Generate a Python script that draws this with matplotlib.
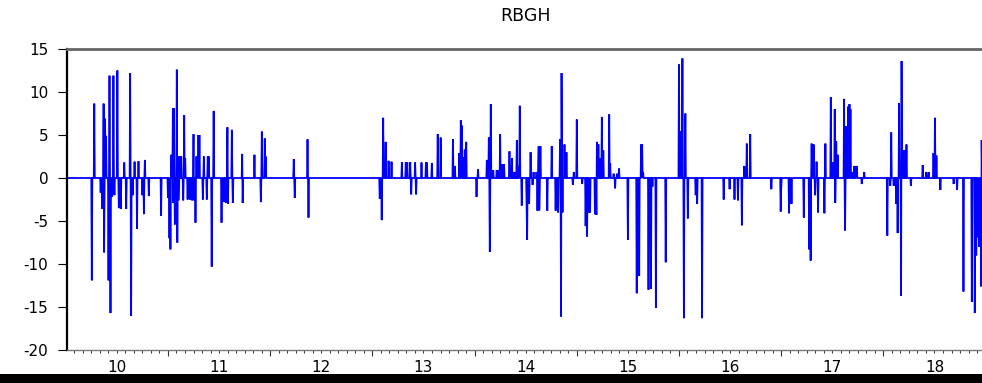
import numpy as np
import matplotlib
matplotlib.use("Agg")
import matplotlib.pyplot as plt
from matplotlib.ticker import MultipleLocator, FixedLocator, NullFormatter
from matplotlib.patches import Rectangle
import matplotlib.transforms as mtransforms

title = "RBGH"
year_labels = ["10", "11", "12", "13", "14", "15", "16", "17", "18"]
year_starts = [2010, 2011, 2012, 2013, 2014, 2015, 2016, 2017, 2018]
y_ticks = [15, 10, 5, 0, -5, -10, -15, -20]

spike_year = [
    2010.256, 2010.279, 2010.341, 2010.358, 2010.371, 2010.377, 2010.384, 2010.393,
    2010.419, 2010.429, 2010.439, 2010.452, 2010.468, 2010.478, 2010.504, 2010.517,
    2010.537, 2010.570, 2010.592, 2010.631, 2010.638, 2010.654, 2010.674, 2010.697,
    2010.710, 2010.752, 2010.765, 2010.775, 2010.814, 2010.932,
    2011.000, 2011.013, 2011.026, 2011.033, 2011.046, 2011.052, 2011.059, 2011.065,
    2011.085, 2011.091, 2011.098, 2011.104, 2011.117, 2011.130, 2011.147, 2011.157,
    2011.170, 2011.192, 2011.215, 2011.235, 2011.248, 2011.254, 2011.267, 2011.281,
    2011.297, 2011.307, 2011.339, 2011.349, 2011.378, 2011.388, 2011.398, 2011.427,
    2011.447, 2011.522, 2011.535, 2011.555, 2011.568, 2011.581, 2011.587, 2011.626,
    2011.633, 2011.724, 2011.731, 2011.845, 2011.907, 2011.917, 2011.946, 2011.956,
    2012.233, 2012.239, 2012.367, 2012.373,
    2013.074, 2013.091, 2013.104, 2013.130, 2013.159, 2013.189, 2013.290, 2013.329,
    2013.342, 2013.368, 2013.381, 2013.417, 2013.427, 2013.479, 2013.525, 2013.534,
    2013.583, 2013.639, 2013.668, 2013.789, 2013.808, 2013.851, 2013.864, 2013.877,
    2013.890, 2013.903, 2013.919,
    2014.020, 2014.033, 2014.118, 2014.138, 2014.151, 2014.160, 2014.183, 2014.216,
    2014.235, 2014.248, 2014.275, 2014.288, 2014.340, 2014.363, 2014.379, 2014.395,
    2014.415, 2014.431, 2014.444, 2014.460, 2014.509, 2014.516, 2014.535, 2014.548,
    2014.565, 2014.575, 2014.607, 2014.617, 2014.627, 2014.637, 2014.646, 2014.712,
    2014.754, 2014.793, 2014.819, 2014.836, 2014.845, 2014.852, 2014.862, 2014.881,
    2014.901, 2014.963, 2014.973,
    2015.002, 2015.054, 2015.087, 2015.103, 2015.119, 2015.129, 2015.178, 2015.191,
    2015.198, 2015.211, 2015.227, 2015.243, 2015.260, 2015.315, 2015.328, 2015.361,
    2015.377, 2015.393, 2015.413, 2015.498, 2015.586, 2015.609, 2015.628, 2015.638,
    2015.651, 2015.703, 2015.726, 2015.742, 2015.772, 2015.870,
    2016.000, 2016.020, 2016.033, 2016.049, 2016.062, 2016.088, 2016.163, 2016.179,
    2016.228, 2016.437, 2016.496, 2016.545, 2016.577, 2016.616, 2016.639, 2016.665,
    2016.695, 2016.903, 2016.995,
    2017.001, 2017.076, 2017.093, 2017.102, 2017.223, 2017.272, 2017.288, 2017.298,
    2017.318, 2017.331, 2017.344, 2017.360, 2017.422, 2017.432, 2017.484, 2017.504,
    2017.523, 2017.530, 2017.539, 2017.553, 2017.614, 2017.624, 2017.634, 2017.654,
    2017.667, 2017.680, 2017.696, 2017.716, 2017.729, 2017.742, 2017.787, 2017.813,
    2018.038, 2018.068, 2018.078, 2018.100, 2018.123, 2018.140, 2018.156, 2018.166,
    2018.172, 2018.179, 2018.198, 2018.211, 2018.228, 2018.270, 2018.384, 2018.420,
    2018.440, 2018.492, 2018.505, 2018.521, 2018.557, 2018.687, 2018.723, 2018.782,
    2018.864, 2018.896, 2018.909, 2018.926, 2018.939, 2018.955, 2018.961,
]
spike_value = [
    -11.9, 8.65, -1.7, -3.6, 8.65, -8.65, 6.9, 4.9,
    -11.9, 11.9, -15.7, -2.2, 11.9, -2.0, 12.5, -3.5,
    -3.6, 1.8, -3.6, 12.2, -16.0, -2.0, 1.9, -5.9,
    1.95, -2.0, -4.2, 2.1, -2.1, -4.4,
    -2.3, -7.0, -8.3, 2.7, 8.1, -2.9, 8.1, -5.4,
    12.6, -7.5, 2.5, -2.6, 2.5, 2.5, -2.6, 7.3,
    2.3, -2.5, -2.5, -2.6, 5.1, -2.6, -5.2, 2.5,
    5.0, 5.0, -2.5, 2.5, -2.5, 2.5, 2.5, -10.3,
    7.8, -5.2, -2.7, -2.8, -2.9, 5.9, -3.0, 5.6,
    -2.9, 2.8, -2.9, 2.7, -2.8, 5.4, 4.6, 2.5,
    2.2, -2.3, 4.5, -4.6,
    -2.4, -4.9, 7.0, 4.2, 2.0, 1.9, 1.85, 1.85,
    1.85, 1.85, -1.9, 1.8, -1.9, 1.8, 1.8, 1.8,
    1.75, 5.1, 4.7, 4.5, 1.4, 2.9, 6.7, 6.1,
    2.4, 3.3, 4.2,
    -2.2, 1.0, 2.1, 4.7, -8.6, 8.6, 0.9, 0.9,
    0.9, 5.1, 1.6, 1.6, 3.1, 2.3, 0.7, 0.7,
    4.4, 1.4, 8.4, -3.2, -3.4, -7.2, -3.0, 3.0,
    -0.8, 0.7, 0.7, -3.8, 3.7, -3.8, 3.7, -3.8,
    3.7, -3.8, -4.0, 4.5, -16.1, 12.2, -4.0, 3.9,
    3.0, -0.8, 0.7,
    6.8, -0.7, -5.6, -6.8, -4.0, -4.0, -4.2, -4.3,
    4.2, 3.9, 2.3, 7.1, 3.2, 7.4, 1.7, 0.5,
    -1.2, 0.5, 1.1, -7.2, -13.4, -11.4, 3.9, 3.9,
    0.7, -13.0, -12.9, -1.0, -15.1, -9.8,
    13.2, 5.4, 13.9, -16.3, 7.5, -4.7, -2.0, -3.0,
    -16.3, -2.5, -1.3, -2.5, -2.6, -5.5, 1.4, 4.0,
    5.1, -1.3, -3.9,
    -1.3, -4.1, -3.0, -3.0, -4.6, -8.3, -9.6, 4.0,
    3.9, -2.0, 1.9, -4.0, -4.1, 4.0, 9.4, 1.8,
    8.0, -2.9, 4.3, 2.7, 9.2, -6.1, 6.0, 8.3,
    8.6, 8.0, 0.7, 1.4, 1.4, 1.4, -0.7, 0.7,
    -6.7, -0.9, 5.3, -0.9, -3.0, -6.4, 8.7, 1.7,
    -13.7, 13.6, 3.2, 3.2, 3.9, -0.9, 1.5, 0.7,
    0.7, 2.9, 7.0, 2.6, -1.4, -0.7, -1.4, -13.2,
    -14.4, -15.7, -9.0, -6.9, -8.0, -12.6, 4.4,
]

# observation grid (zeros except the read values)
obs_per_year = 208
grid = 2010.0 + np.arange(0, int(8.97 * obs_per_year) + 1) / obs_per_year
series = np.zeros_like(grid)
for t, v in zip(spike_year, spike_value):
    i = int(round((t - 2010.0) * obs_per_year))
    while i < len(series) - 1 and series[i] != 0:
        i += 1
    series[i] = v

plt.rcParams['font.family'] = ['DejaVu Sans']

fig = plt.figure(figsize=(9.82, 3.83), dpi=100)
ax = fig.add_axes([67 / 982, 1 - 350 / 383, 1 - 67 / 982, (350 - 49) / 383])

ax.plot(grid, series, color='#0000ff', lw=1.3, solid_joinstyle='miter')

ax.set_xlim(2010.012, 2018.965)
ax.set_ylim(-20, 15)

ax.set_yticks(y_ticks)
ax.set_yticklabels([str(v) for v in y_ticks])
ax.tick_params(axis='y', direction='out', length=6.5, width=0.8, pad=7,
               labelsize=11, colors='black')

ax.xaxis.set_major_locator(FixedLocator(year_starts[1:]))
ax.xaxis.set_minor_locator(MultipleLocator(1 / 12))
ax.xaxis.set_major_formatter(NullFormatter())
ax.tick_params(axis='x', which='major', direction='out', length=4.5, width=0.8, color='#333333')
ax.tick_params(axis='x', which='minor', direction='out', length=2.3, width=0.7, color='#333333')

trans = mtransforms.blended_transform_factory(ax.transData, fig.transFigure)
for ys, lab in zip(year_starts, year_labels):
    ax.text(ys + 0.5, 1 - 367 / 383, lab, transform=trans, ha='center', va='center',
            fontsize=11, clip_on=False)

ax.spines['right'].set_visible(False)
ax.spines['top'].set_color('#666666')
ax.spines['top'].set_linewidth(2.0)
ax.spines['bottom'].set_color('#777777')
ax.spines['bottom'].set_linewidth(1.0)
ax.spines['left'].set_color('black')
ax.spines['left'].set_linewidth(1.6)

fig.text(526 / 982, 1 - 16 / 383, title, ha='center', va='center', fontsize=12.5)

fig.patches.append(Rectangle((0, 0), 1, 9 / 383, transform=fig.transFigure,
                             facecolor='black', edgecolor='none', figure=fig))

fig.savefig('out.png', dpi=100)
